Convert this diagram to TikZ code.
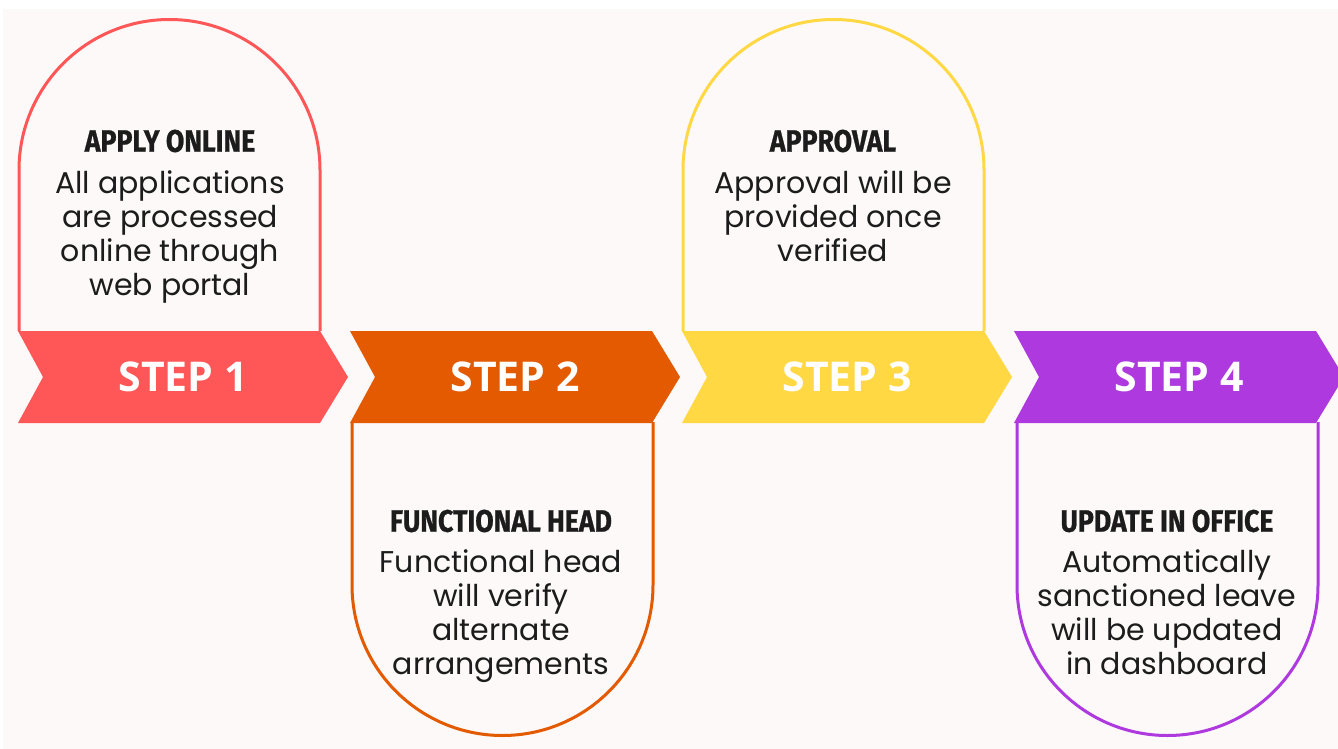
\documentclass[tikz,border=0pt]{standalone}
\usepackage{fontspec}
\setmainfont{Poppins}
\newfontfamily\headfont[FakeStretch=0.86, FakeBold=0.8]{Fira Sans}
\newfontfamily\stepfont{Open Sans}
\usepackage{tikz}
\usetikzlibrary{positioning}

\definecolor{paper}{HTML}{FCF9F8}
\definecolor{ink}{HTML}{1C1C1C}
\definecolor{stepred}{HTML}{FF5757}
\definecolor{steporange}{HTML}{E35A00}
\definecolor{stepyellow}{HTML}{FFD844}
\definecolor{steppurple}{HTML}{AE3ADF}

\begin{document}
\begin{tikzpicture}[x=1pt, y=-1pt,
    arch/.style={line width=3pt, fill=paper},
    tag/.style={font=\stepfont\bfseries\fontsize{41}{41}\selectfont, text=white},
    title/.style={font=\headfont\bfseries\fontsize{31}{34}\selectfont, text=ink},
    body/.style={font=\fontsize{30}{34}\selectfont, align=center, text=ink, inner sep=0pt}]

        \useasboundingbox (0,0) rectangle (1338,749);
        \fill[white] (0,0) rectangle (1338,749);
        \fill[paper] (3,9) rectangle (1338,749);

        % step 1
        \draw[arch, draw=stepred] (19,331) -- (19,170) arc[start angle=180, end angle=360, radius=150.5] -- (320,331);
        \fill[stepred] (18,331) -- (320,331) -- (348,377) -- (320,423) -- (18,423) -- (43,377) -- cycle;
        \node[tag] (step1) at (183,377) {STEP 1};
        \node[title] (apply) at (170,141) {APPLY ONLINE};
        \node[body, below=15pt of apply] (apply-text) {All applications\\are processed\\online through\\web portal};

        % step 2
        \draw[arch, draw=steporange] (352,422) -- (352,585) arc[start angle=180, end angle=0, radius=150.5] -- (653,422);
        \fill[steporange] (350,331) -- (652,331) -- (680,377) -- (652,423) -- (350,423) -- (375,377) -- cycle;
        \node[tag] (step2) at (515,377) {STEP 2};
        \node[title] (head) at (501,521) {FUNCTIONAL HEAD};
        \node[body, below=14pt of head] (head-text) {Functional head\\will verify\\alternate\\arrangements};

        % step 3
        \draw[arch, draw=stepyellow] (683,331) -- (683,170) arc[start angle=180, end angle=360, radius=150.5] -- (984,331);
        \fill[stepyellow] (682,331) -- (984,331) -- (1012,377) -- (984,423) -- (682,423) -- (707,377) -- cycle;
        \node[tag] (step3) at (847,377) {STEP 3};
        \node[title] (approval) at (833,141) {APPROVAL};
        \node[body, below=15pt of approval] (approval-text) {Approval will be\\provided once\\verified};

        % step 4
        \draw[arch, draw=steppurple] (1017,422) -- (1017,585) arc[start angle=180, end angle=0, radius=150.5] -- (1318,422);
        \fill[steppurple] (1014,331) -- (1316,331) -- (1344,377) -- (1316,423) -- (1014,423) -- (1039,377) -- cycle;
        \node[tag] (step4) at (1179,377) {STEP 4};
        \node[title] (update) at (1167,521) {UPDATE IN OFFICE};
        \node[body, below=14pt of update] (update-text) {Automatically\\sanctioned leave\\will be updated\\in dashboard};

\end{tikzpicture}
\end{document}
